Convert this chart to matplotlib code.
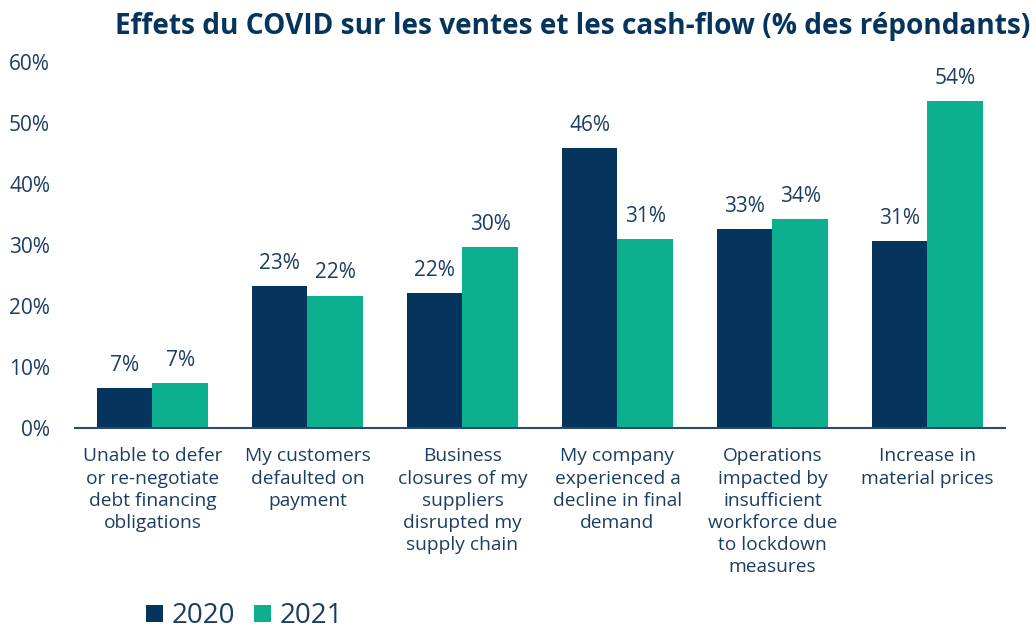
import matplotlib.pyplot as plt
import numpy as np

categories = [
    "Unable to defer\nor re-negotiate\ndebt financing\nobligations",
    "My customers\ndefaulted on\npayment",
    "Business\nclosures of my\nsuppliers\ndisrupted my\nsupply chain",
    "My company\nexperienced a\ndecline in final\ndemand",
    "Operations\nimpacted by\ninsufficient\nworkforce due\nto lockdown\nmeasures",
    "Increase in\nmaterial prices",
]
vals_2020 = [6.6, 23.3, 22.1, 45.9, 32.6, 30.7]
vals_2021 = [7.4, 21.7, 29.6, 31.0, 34.2, 53.6]
labels_2020 = ["7%", "23%", "22%", "46%", "33%", "31%"]
labels_2021 = ["7%", "22%", "30%", "31%", "34%", "54%"]

navy = "#05345c"
teal = "#0db08e"
txt = "#1c3d63"

plt.rcParams['font.family'] = ['Open Sans', 'DejaVu Sans']

fig = plt.figure(figsize=(10.36, 6.3), dpi=100)
ax = fig.add_axes([0.0724, 0.3206, 0.8976, 0.581])

x = np.arange(len(categories))
w = 0.36
b1 = ax.bar(x - w / 2, vals_2020, w, color=navy, label="2020")
b2 = ax.bar(x + w / 2, vals_2021, w, color=teal, label="2021")

for bars, labs in ((b1, labels_2020), (b2, labels_2021)):
    for r, lab in zip(bars, labs):
        ax.text(r.get_x() + r.get_width() / 2, r.get_height() + 2.0, lab,
                ha="center", va="bottom", fontsize=15, color=txt)

ax.set_xlim(-0.5, 5.5)
ax.set_ylim(0, 60)
ax.set_yticks(range(0, 61, 10))
ax.set_yticklabels([f"{v}%" for v in range(0, 61, 10)], fontsize=15, color=txt)
ax.set_xticks(x)
ax.set_xticklabels(categories, fontsize=13.8, color=txt, linespacing=1.3)
ax.tick_params(axis="both", length=0)
ax.tick_params(axis="y", pad=18)
ax.tick_params(axis="x", pad=14)
for s in ("top", "right", "left"):
    ax.spines[s].set_visible(False)
ax.spines["bottom"].set_color("#2a4a6e")
ax.spines["bottom"].set_linewidth(1.5)

fig.text(0.553, 0.958, "Effets du COVID sur les ventes et les cash-flow (% des répondants)",
         ha="center", va="center", fontsize=20.2, fontweight="bold", color=navy)

fig.legend(handles=[b1, b2], loc="lower left", bbox_to_anchor=(0.117, -0.04),
           ncol=2, frameon=False, fontsize=20, handlelength=0.6, handleheight=0.6,
           handletextpad=0.3, columnspacing=0.7, labelcolor=txt)

fig.savefig("out.png", dpi=100)
